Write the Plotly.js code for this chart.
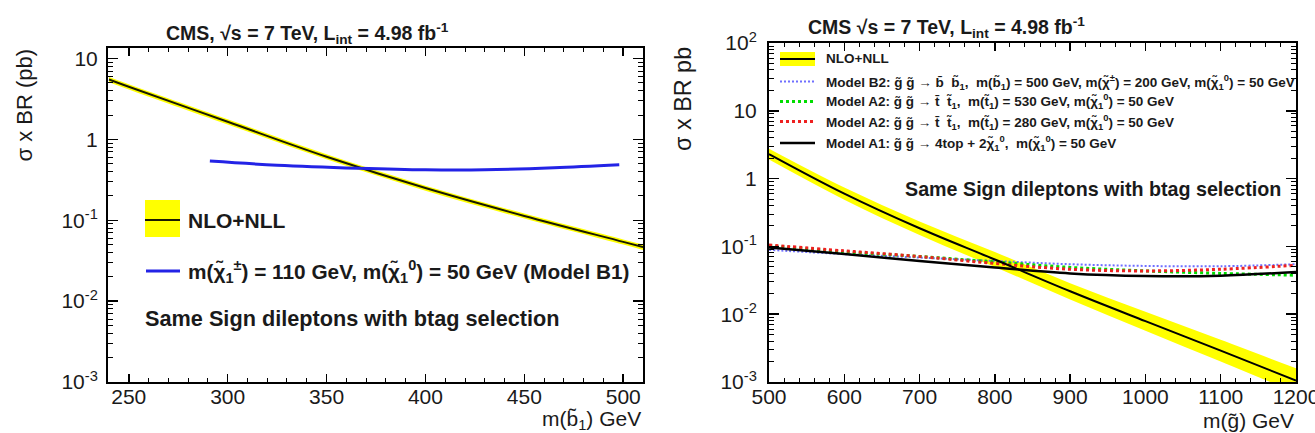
<!DOCTYPE html>
<html><head><meta charset="utf-8">
<script src="https://cdn.plot.ly/plotly-3.0.1.min.js"></script>
<style>html,body{margin:0;padding:0;background:#fff}</style>
</head><body><div id="chart" style="width:1315px;height:433px"></div>
<script>
// ---------- Left panel data (sbottom) ----------
const sbottomMass    = [240, 250, 300, 350, 400, 450, 500, 510];
const sbottomNLO     = [5.5, 4.47, 1.65, 0.61, 0.25, 0.113, 0.054, 0.0465];
const sbottomNLOHigh = [5.9, 4.80, 1.77, 0.655, 0.268, 0.121, 0.058, 0.050];
const sbottomNLOLow  = [5.1, 4.15, 1.53, 0.567, 0.232, 0.105, 0.050, 0.043];
const modelB1Mass    = [291, 325, 366, 400, 430, 465, 498];
const modelB1Xsec    = [0.54, 0.48, 0.44, 0.42, 0.42, 0.445, 0.485];

// ---------- Right panel data (gluino) ----------
const gluinoMass     = [500, 600, 700, 800, 900, 1000, 1100, 1200];
const gluinoNLO      = [2.3, 0.60, 0.185, 0.064, 0.0218, 0.0079, 0.0029, 0.00105];
const gluinoNLOHigh  = [2.76, 0.738, 0.233, 0.0824, 0.0287, 0.0109, 0.00419, 0.00159];
const gluinoNLOLow   = [1.91, 0.488, 0.147, 0.0497, 0.0165, 0.00572, 0.00201, 0.000694];
const modelB2Xsec    = [0.089, 0.077, 0.0685, 0.061, 0.0546, 0.0515, 0.051, 0.0546];
const modelA2_530    = [0.102, 0.083, 0.071, 0.059, 0.049, 0.0435, 0.040, 0.0376];
const modelA2_280    = [0.105, 0.086, 0.071, 0.056, 0.046, 0.0435, 0.046, 0.0527];
const modelA1Xsec    = [0.0964, 0.077, 0.061, 0.049, 0.040, 0.0367, 0.037, 0.042];

// ---------- tick labels ----------
const leftYTickVals  = [0.001, 0.01, 0.1, 1, 10];
const leftYTickText  = ['10<sup>-3</sup>', '10<sup>-2</sup>', '10<sup>-1</sup>', '1', '10'];
const rightYTickVals = [0.001, 0.01, 0.1, 1, 10, 100];
const rightYTickText = ['10<sup>-3</sup>', '10<sup>-2</sup>', '10<sup>-1</sup>', '1', '10', '10<sup>2</sup>'];

const W = 1315, H = 433;
const px = x => x / W;
const py = y => 1 - y / H;
const FONT = 'Liberation Sans, Arial, Helvetica, sans-serif';

function logMinor(lo, hi) {
  const v = [];
  for (let e = lo; e < hi; e++) for (let k = 2; k <= 9; k++) v.push(k * Math.pow(10, e));
  return v;
}

const traces = [
  // left band
  {x: sbottomMass, y: sbottomNLOHigh, xaxis: 'x', yaxis: 'y', mode: 'lines',
   line: {width: 0, shape: 'spline', color: '#ffff00'}, hoverinfo: 'skip'},
  {x: sbottomMass, y: sbottomNLOLow, xaxis: 'x', yaxis: 'y', mode: 'lines', fill: 'tonexty',
   fillcolor: '#ffff00', line: {width: 0, shape: 'spline', color: '#ffff00'}, hoverinfo: 'skip'},
  {x: sbottomMass, y: sbottomNLO, xaxis: 'x', yaxis: 'y', mode: 'lines',
   line: {width: 2, shape: 'spline', color: '#1a1a00'}, name: 'NLO+NLL'},
  {x: modelB1Mass, y: modelB1Xsec, xaxis: 'x', yaxis: 'y', mode: 'lines',
   line: {width: 3, shape: 'spline', color: '#2323e6'}, name: 'Model B1'},
  // right band
  {x: gluinoMass, y: gluinoNLOHigh, xaxis: 'x2', yaxis: 'y2', mode: 'lines',
   line: {width: 0, shape: 'spline', color: '#ffff00'}, hoverinfo: 'skip'},
  {x: gluinoMass, y: gluinoNLOLow, xaxis: 'x2', yaxis: 'y2', mode: 'lines', fill: 'tonexty',
   fillcolor: '#ffff00', line: {width: 0, shape: 'spline', color: '#ffff00'}, hoverinfo: 'skip'},
  {x: gluinoMass, y: modelB2Xsec, xaxis: 'x2', yaxis: 'y2', mode: 'lines',
   line: {width: 2, shape: 'spline', color: '#6f6fff', dash: '2px,2px'}, name: 'Model B2'},
  {x: gluinoMass, y: modelA2_530, xaxis: 'x2', yaxis: 'y2', mode: 'lines',
   line: {width: 3, shape: 'spline', color: '#00dd00', dash: 'dot'}, name: 'Model A2 530'},
  {x: gluinoMass, y: modelA2_280, xaxis: 'x2', yaxis: 'y2', mode: 'lines',
   line: {width: 3, shape: 'spline', color: '#ee2020', dash: 'dot'}, name: 'Model A2 280'},
  {x: gluinoMass, y: modelA1Xsec, xaxis: 'x2', yaxis: 'y2', mode: 'lines',
   line: {width: 2.5, shape: 'spline', color: '#000000'}, name: 'Model A1'},
  {x: gluinoMass, y: gluinoNLO, xaxis: 'x2', yaxis: 'y2', mode: 'lines',
   line: {width: 2, shape: 'spline', color: '#000000'}, name: 'NLO+NLL'}
];

const axCommon = {
  showline: true, linewidth: 2, linecolor: '#000', mirror: 'ticks',
  ticks: 'inside', tickwidth: 1.5, tickcolor: '#000',
  showgrid: false, zeroline: false, fixedrange: true,
  tickfont: {family: FONT, size: 21, color: '#1a1a1a'}
};

const layout = {
  width: W, height: H,
  margin: {l: 0, r: 0, t: 0, b: 0},
  paper_bgcolor: '#fff', plot_bgcolor: '#fff',
  showlegend: false,
  xaxis: Object.assign({}, axCommon, {
    domain: [px(108), px(643)], anchor: 'y', range: [239.5, 510],
    tickmode: 'linear', tick0: 250, dtick: 50, ticklen: 8,
    ticklabelstandoff: -5, ticklabeloverflow: 'allow',
    minor: {dtick: 10, tick0: 250, ticks: 'inside', ticklen: 4, tickwidth: 1, tickcolor: '#000'}
  }),
  yaxis: Object.assign({}, axCommon, {
    domain: [py(382), py(48)], anchor: 'x', type: 'log', range: [-3, 1.13],
    tickmode: 'array', tickvals: leftYTickVals, ticktext: leftYTickText, ticklen: 10,
    ticklabelstandoff: 4,
    minor: {tickmode: 'array', tickvals: logMinor(-3, 2), ticks: 'inside', ticklen: 5, tickwidth: 1, tickcolor: '#000'}
  }),
  xaxis2: Object.assign({}, axCommon, {
    domain: [px(769), px(1296)], anchor: 'y2', range: [500, 1200],
    tickmode: 'linear', tick0: 500, dtick: 100, ticklen: 8,
    ticklabelstandoff: -5, ticklabeloverflow: 'allow',
    minor: {dtick: 20, tick0: 500, ticks: 'inside', ticklen: 4, tickwidth: 1, tickcolor: '#000'}
  }),
  yaxis2: Object.assign({}, axCommon, {
    domain: [py(382), py(43)], anchor: 'x2', type: 'log', range: [-3, 2],
    tickmode: 'array', tickvals: rightYTickVals, ticktext: rightYTickText, ticklen: 10,
    ticklabelstandoff: 6,
    minor: {tickmode: 'array', tickvals: logMinor(-3, 2), ticks: 'inside', ticklen: 5, tickwidth: 1, tickcolor: '#000'}
  }),
  shapes: [
    // left legend glyphs
    {type: 'rect', xref: 'paper', yref: 'paper', x0: px(145), x1: px(180), y0: py(237), y1: py(200),
     fillcolor: '#ffff00', line: {width: 0}},
    {type: 'line', xref: 'paper', yref: 'paper', x0: px(145), x1: px(180), y0: py(220), y1: py(220),
     line: {color: '#1a1a00', width: 2}},
    {type: 'line', xref: 'paper', yref: 'paper', x0: px(146), x1: px(180), y0: py(271), y1: py(271),
     line: {color: '#2323e6', width: 3}},
    // right legend glyphs
    {type: 'rect', xref: 'paper', yref: 'paper', x0: px(780), x1: px(815), y0: py(66), y1: py(52),
     fillcolor: '#ffff00', line: {width: 0}},
    {type: 'line', xref: 'paper', yref: 'paper', x0: px(780), x1: px(815), y0: py(59), y1: py(59),
     line: {color: '#000', width: 2}},
    {type: 'line', xref: 'paper', yref: 'paper', x0: px(780), x1: px(815), y0: py(81.5), y1: py(81.5),
     line: {color: '#6f6fff', width: 2, dash: '2px,2px'}},
    {type: 'line', xref: 'paper', yref: 'paper', x0: px(780), x1: px(815), y0: py(101.5), y1: py(101.5),
     line: {color: '#00dd00', width: 3, dash: 'dot'}},
    {type: 'line', xref: 'paper', yref: 'paper', x0: px(780), x1: px(815), y0: py(121.5), y1: py(121.5),
     line: {color: '#ee2020', width: 3, dash: 'dot'}},
    {type: 'line', xref: 'paper', yref: 'paper', x0: px(780), x1: px(815), y0: py(143), y1: py(143),
     line: {color: '#000', width: 2.5}}
  ],
  annotations: []
};

function ann(text, x, y, opts) {
  layout.annotations.push(Object.assign({
    text: text, xref: 'paper', yref: 'paper', x: px(x), y: py(y),
    showarrow: false, xanchor: 'left', yanchor: 'middle',
    font: {family: FONT, size: 14, color: '#1a1a1a'}
  }, opts || {}));
}
const B = s => '<b>' + s + '</b>';
const gt = 'g\u0303', chi = '\u03c7\u0303', NB = '\u00a0';
const f = s => ({family: FONT, size: s, color: '#1a1a1a'});

// titles
ann(B('CMS, \u221As = 7 TeV, L<sub>int</sub> = 4.98 fb<sup>-1</sup>'), 307, 33, {xanchor: 'center', font: f(19.5)});
ann(B('CMS \u221As = 7 TeV, L<sub>int</sub> = 4.98 fb<sup>-1</sup>'), 946, 27, {xanchor: 'center', font: f(19.5)});
// axis titles
ann('\u03c3 x BR (pb)', 24, 47, {xanchor: 'center', yanchor: 'top', textangle: -90, font: f(22)});
ann('\u03c3 x BR pb', 683, 45, {xanchor: 'center', yanchor: 'top', textangle: -90, font: f(23.4)});
ann('m(b\u0303<sub>1</sub>) GeV', 643, 420, {xanchor: 'right', font: f(21)});
ann('m(' + gt + ') GeV', 1296, 420, {xanchor: 'right', font: f(21)});
// left legend
ann(B('NLO+NLL'), 186, 220, {font: f(21)});
ann(B('m(' + chi + '<sub>1</sub><sup>\u00b1</sup>) = 110 GeV, m(' + chi + '<sub>1</sub><sup>0</sup>) = 50 GeV (Model B1)'), 186, 271, {font: f(20.8)});
ann(B('Same Sign dileptons with btag selection'), 143, 318, {font: f(21.7)});
// right legend
const rf = f(13.5);
ann(B('NLO+NLL'), 824, 59, {font: rf});
ann(B('Model B2: ' + gt + ' ' + gt + ' \u2192 b\u0304 ' + NB + 'b\u0303<sub>1</sub>,' + NB + NB + 'm(b\u0303<sub>1</sub>) = 500 GeV, m(' + chi + '<sup>\u00b1</sup>) = 200 GeV, m(' + chi + '<sub>1</sub><sup>0</sup>) = 50 GeV'), 824, 81.5, {font: rf});
ann(B('Model A2: ' + gt + ' ' + gt + ' \u2192 t\u0304 ' + NB + 't\u0303<sub>1</sub>,' + NB + NB + 'm(t\u0303<sub>1</sub>) = 530 GeV, m(' + chi + '<sub>1</sub><sup>0</sup>) = 50 GeV'), 824, 101.5, {font: rf});
ann(B('Model A2: ' + gt + ' ' + gt + ' \u2192 t\u0304 ' + NB + 't\u0303<sub>1</sub>,' + NB + NB + 'm(t\u0303<sub>1</sub>) = 280 GeV, m(' + chi + '<sub>1</sub><sup>0</sup>) = 50 GeV'), 824, 121.5, {font: rf});
ann(B('Model A1: ' + gt + ' ' + gt + ' \u2192 4top + 2' + chi + '<sub>1</sub><sup>0</sup>,' + NB + NB + 'm(' + chi + '<sub>1</sub><sup>0</sup>) = 50 GeV'), 824, 143, {font: rf});
ann(B('Same Sign dileptons with btag selection'), 1283, 189, {xanchor: 'right', font: f(19.7)});

Plotly.newPlot('chart', traces, layout, {staticPlot: true, displayModeBar: false});
</script>
</body></html>
